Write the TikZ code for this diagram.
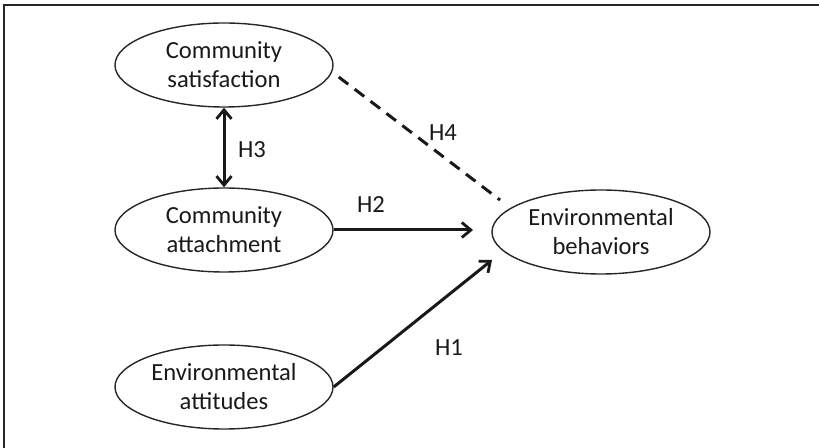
\documentclass[tikz,border=0pt]{standalone}
\usepackage{fontspec}
\setmainfont{Carlito}
\usetikzlibrary{shapes.geometric,arrows.meta}
\begin{document}
\begin{tikzpicture}[x=0.5pt,y=-0.5pt,
  construct/.style={ellipse,draw=black!85,line width=0.7pt,inner sep=0pt,
    minimum width=109pt,minimum height=42pt,align=center,
    font=\fontsize{12.3}{14.5}\selectfont,text=black!90},
  tip/.style={Straight Barb[length=4.5pt,width=7.5pt,line width=1.4pt]},
  path/.style={line width=1.5pt,draw=black!90,-{Straight Barb[length=4.5pt,width=7.5pt,line width=1.4pt]}},
  hlabel/.style={font=\fontsize{12.3}{14.5}\selectfont,text=black!90}]
\useasboundingbox (0,0) rectangle (819,448);
\draw[line width=1pt,black!85] (4,448) -- (4,5) -- (819,5);
\node[construct] (sat) at (224,65) {Community\\satisfaction};
\node[construct] (att) at (224,230) {Community\\attachment};
\node[construct] (atti) at (224,387) {Environmental\\attitudes};
\node[construct] (beh) at (601,232) {Environmental\\behaviors};
\coordinate (h2end) at (473,230);
\coordinate (h1end) at (492,260);
\coordinate (h4end) at (500,200);
\coordinate (h4start) at ([shift={(5,12)}]sat.east);
\draw[path,{Straight Barb[length=4.5pt,width=7.5pt,line width=1.4pt]}-{Straight Barb[length=4.5pt,width=7.5pt,line width=1.4pt]}] (sat.south) -- (att.north);
\draw[path] (att.east) -- (h2end);
\draw[path] (atti.east) -- (h1end);
\draw[line width=1.5pt,draw=black!90,dash pattern=on 6pt off 4pt] (h4start) -- (h4end);
\node[hlabel] (l3) at (252,150) {H3};
\node[hlabel] (l2) at (371,205) {H2};
\node[hlabel] (l4) at (443,133) {H4};
\node[hlabel] (l1) at (449,348) {H1};
\end{tikzpicture}
\end{document}
